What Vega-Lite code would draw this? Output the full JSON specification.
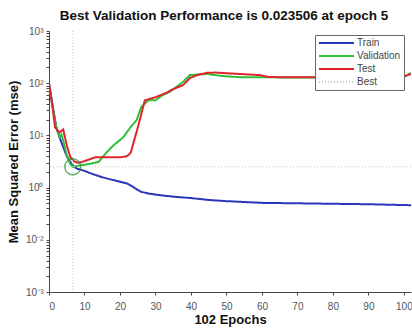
{
  "$schema": "https://vega.github.io/schema/vega-lite/v6.json",
  "autosize": "none",
  "width": 362,
  "height": 261,
  "padding": {"left": 49, "top": 31, "right": 1, "bottom": 37},
  "background": "white",
  "config": {
    "view": {"stroke": null},
    "font": "Liberation Sans",
    "axis": {"grid": false, "domainColor": "#444", "tickColor": "#444", "labelColor": "#555", "labelFont": "Liberation Sans", "labelFontSize": 10, "titleFont": "Liberation Sans", "titleFontSize": 13, "titleFontWeight": "bold", "titleColor": "#111", "tickSize": 3, "labelOverlap": false},
    "axisX": {"labelOverlap": false, "labelSeparation": 0}
  },
  "title": {"text": "Best Validation Performance is 0.023506 at epoch 5", "fontSize": 13.5, "fontWeight": "bold", "font": "Liberation Sans", "color": "#111", "anchor": "middle", "offset": 4, "dx": -6},
  "datasets": {
    "perf": [
      {"epoch": 0, "mse": 100, "series": "Train"},
      {"epoch": 1, "mse": 38, "series": "Train"},
      {"epoch": 2, "mse": 15, "series": "Train"},
      {"epoch": 3, "mse": 9, "series": "Train"},
      {"epoch": 4, "mse": 6, "series": "Train"},
      {"epoch": 5, "mse": 4, "series": "Train"},
      {"epoch": 6, "mse": 3.1, "series": "Train"},
      {"epoch": 7, "mse": 2.5, "series": "Train"},
      {"epoch": 8, "mse": 2.3, "series": "Train"},
      {"epoch": 10, "mse": 2.09, "series": "Train"},
      {"epoch": 12, "mse": 1.85, "series": "Train"},
      {"epoch": 15, "mse": 1.58, "series": "Train"},
      {"epoch": 18, "mse": 1.4, "series": "Train"},
      {"epoch": 20, "mse": 1.3, "series": "Train"},
      {"epoch": 22, "mse": 1.2, "series": "Train"},
      {"epoch": 24, "mse": 1.0, "series": "Train"},
      {"epoch": 25, "mse": 0.9, "series": "Train"},
      {"epoch": 26, "mse": 0.83, "series": "Train"},
      {"epoch": 28, "mse": 0.77, "series": "Train"},
      {"epoch": 31, "mse": 0.72, "series": "Train"},
      {"epoch": 35, "mse": 0.67, "series": "Train"},
      {"epoch": 40, "mse": 0.63, "series": "Train"},
      {"epoch": 45, "mse": 0.58, "series": "Train"},
      {"epoch": 50, "mse": 0.55, "series": "Train"},
      {"epoch": 55, "mse": 0.53, "series": "Train"},
      {"epoch": 60, "mse": 0.51, "series": "Train"},
      {"epoch": 70, "mse": 0.5, "series": "Train"},
      {"epoch": 80, "mse": 0.49, "series": "Train"},
      {"epoch": 90, "mse": 0.48, "series": "Train"},
      {"epoch": 102, "mse": 0.46, "series": "Train"},

      {"epoch": 0, "mse": 100, "series": "Validation"},
      {"epoch": 1, "mse": 35, "series": "Validation"},
      {"epoch": 2, "mse": 15, "series": "Validation"},
      {"epoch": 3, "mse": 9.3, "series": "Validation"},
      {"epoch": 3.5, "mse": 10.5, "series": "Validation"},
      {"epoch": 4, "mse": 8, "series": "Validation"},
      {"epoch": 5, "mse": 4.2, "series": "Validation"},
      {"epoch": 6, "mse": 2.8, "series": "Validation"},
      {"epoch": 6.7, "mse": 2.5, "series": "Validation"},
      {"epoch": 8, "mse": 2.6, "series": "Validation"},
      {"epoch": 9.5, "mse": 2.7, "series": "Validation"},
      {"epoch": 12, "mse": 2.9, "series": "Validation"},
      {"epoch": 14, "mse": 3.1, "series": "Validation"},
      {"epoch": 15, "mse": 3.8, "series": "Validation"},
      {"epoch": 16.3, "mse": 4.8, "series": "Validation"},
      {"epoch": 18, "mse": 6.3, "series": "Validation"},
      {"epoch": 21, "mse": 9.3, "series": "Validation"},
      {"epoch": 23, "mse": 14.5, "series": "Validation"},
      {"epoch": 24.7, "mse": 19.7, "series": "Validation"},
      {"epoch": 26, "mse": 35, "series": "Validation"},
      {"epoch": 28, "mse": 47, "series": "Validation"},
      {"epoch": 30, "mse": 47, "series": "Validation"},
      {"epoch": 32, "mse": 59, "series": "Validation"},
      {"epoch": 34, "mse": 68, "series": "Validation"},
      {"epoch": 37.7, "mse": 105, "series": "Validation"},
      {"epoch": 39.7, "mse": 143, "series": "Validation"},
      {"epoch": 44.5, "mse": 150, "series": "Validation"},
      {"epoch": 49, "mse": 137, "series": "Validation"},
      {"epoch": 54, "mse": 130, "series": "Validation"},
      {"epoch": 62, "mse": 130, "series": "Validation"},
      {"epoch": 70, "mse": 128, "series": "Validation"},
      {"epoch": 80, "mse": 128, "series": "Validation"},
      {"epoch": 90, "mse": 128, "series": "Validation"},
      {"epoch": 100, "mse": 132, "series": "Validation"},
      {"epoch": 102, "mse": 157, "series": "Validation"},

      {"epoch": 0, "mse": 100, "series": "Test"},
      {"epoch": 1, "mse": 35, "series": "Test"},
      {"epoch": 1.7, "mse": 14.5, "series": "Test"},
      {"epoch": 2.5, "mse": 12, "series": "Test"},
      {"epoch": 3, "mse": 11.5, "series": "Test"},
      {"epoch": 4, "mse": 13, "series": "Test"},
      {"epoch": 5, "mse": 6.5, "series": "Test"},
      {"epoch": 6, "mse": 3.85, "series": "Test"},
      {"epoch": 7, "mse": 3.2, "series": "Test"},
      {"epoch": 8, "mse": 3.0, "series": "Test"},
      {"epoch": 9, "mse": 3.05, "series": "Test"},
      {"epoch": 11, "mse": 3.4, "series": "Test"},
      {"epoch": 13, "mse": 3.8, "series": "Test"},
      {"epoch": 16, "mse": 3.8, "series": "Test"},
      {"epoch": 20, "mse": 3.8, "series": "Test"},
      {"epoch": 22, "mse": 4.0, "series": "Test"},
      {"epoch": 23, "mse": 4.6, "series": "Test"},
      {"epoch": 24, "mse": 8, "series": "Test"},
      {"epoch": 25, "mse": 14, "series": "Test"},
      {"epoch": 25.6, "mse": 20, "series": "Test"},
      {"epoch": 27, "mse": 47, "series": "Test"},
      {"epoch": 30, "mse": 54, "series": "Test"},
      {"epoch": 33, "mse": 65, "series": "Test"},
      {"epoch": 35, "mse": 77, "series": "Test"},
      {"epoch": 37.8, "mse": 92, "series": "Test"},
      {"epoch": 39.7, "mse": 126, "series": "Test"},
      {"epoch": 42, "mse": 145, "series": "Test"},
      {"epoch": 44.5, "mse": 158, "series": "Test"},
      {"epoch": 47, "mse": 160, "series": "Test"},
      {"epoch": 50, "mse": 155, "series": "Test"},
      {"epoch": 54, "mse": 150, "series": "Test"},
      {"epoch": 59.4, "mse": 143, "series": "Test"},
      {"epoch": 62, "mse": 131, "series": "Test"},
      {"epoch": 70, "mse": 130, "series": "Test"},
      {"epoch": 80, "mse": 130, "series": "Test"},
      {"epoch": 90, "mse": 130, "series": "Test"},
      {"epoch": 100, "mse": 135, "series": "Test"},
      {"epoch": 102, "mse": 150, "series": "Test"}
    ],
    "best": [{"epoch": 6.7, "mse": 2.5}]
  },
  "layer": [
    {
      "data": {"name": "perf"},
      "mark": {"type": "line", "strokeWidth": 2, "clip": true},
      "encoding": {
        "x": {"field": "epoch", "type": "quantitative", "scale": {"domain": [0, 102], "nice": false},
          "axis": {"title": "102 Epochs", "values": [0, 10, 20, 30, 40, 50, 60, 70, 80, 90, 100], "labelOverlap": false, "labelPadding": 6, "titlePadding": 2}},
        "y": {"field": "mse", "type": "quantitative", "scale": {"type": "log", "domain": [0.01, 1000], "nice": false},
          "axis": {"title": "Mean Squared Error  (mse)", "titlePadding": 5, "labelPadding": 3, "labelOverlap": false,
            "values": [0.01, 0.02, 0.03, 0.04, 0.05, 0.06, 0.07, 0.08, 0.09, 0.1, 0.2, 0.3, 0.4, 0.5, 0.6, 0.7, 0.8, 0.9, 1, 2, 3, 4, 5, 6, 7, 8, 9, 10, 20, 30, 40, 50, 60, 70, 80, 90, 100, 200, 300, 400, 500, 600, 700, 800, 900, 1000],
            "labelExpr": "datum.value == 1000 ? '10³' : datum.value == 100 ? '10²' : datum.value == 10 ? '10¹' : datum.value == 1 ? '10⁰' : datum.value == 0.1 ? '10⁻²' : datum.value == 0.01 ? '10⁻³' : ''"}},
        "color": {"field": "series", "type": "nominal",
          "scale": {"domain": ["Train", "Validation", "Test", "Best"], "range": ["#2b35b8", "#2fbf3a", "#e0242a", "#c8c8c8"]},
          "legend": {"title": null, "orient": "none", "legendX": 266, "legendY": 4, "symbolType": "stroke", "symbolSize": 1225, "symbolStrokeWidth": 2, "clipHeight": 10, "labelFontSize": 10, "labelColor": "#444", "labelFont": "Liberation Sans", "rowPadding": 3, "padding": 3, "labelOffset": 2, "strokeColor": "#666", "fillColor": "white", "cornerRadius": 0}},
        "strokeDash": {"field": "series", "type": "nominal",
          "scale": {"domain": ["Train", "Validation", "Test", "Best"], "range": [[1, 0], [1, 0], [1, 0], [1, 2]]},
          "legend": {"title": null, "orient": "none", "legendX": 266, "legendY": 4, "symbolType": "stroke", "symbolSize": 1225, "symbolStrokeWidth": 2, "clipHeight": 10, "labelFontSize": 10, "labelColor": "#444", "labelFont": "Liberation Sans", "rowPadding": 3, "padding": 3, "labelOffset": 2, "strokeColor": "#666", "fillColor": "white", "cornerRadius": 0}}
      }
    },
    {
      "data": {"name": "best"},
      "mark": {"type": "rule", "color": "#c8c8c8", "strokeDash": [1, 2], "strokeWidth": 1},
      "encoding": {"x": {"field": "epoch", "type": "quantitative",
          "axis": {"title": "102 Epochs", "values": [0, 10, 20, 30, 40, 50, 60, 70, 80, 90, 100], "labelOverlap": false, "labelPadding": 6, "titlePadding": 2}}}
    },
    {
      "data": {"name": "best"},
      "mark": {"type": "rule", "color": "#c8c8c8", "strokeDash": [1, 2], "strokeWidth": 1},
      "encoding": {"y": {"field": "mse", "type": "quantitative",
          "axis": {"title": "Mean Squared Error  (mse)", "titlePadding": 5, "labelPadding": 3, "labelOverlap": false,
            "values": [0.01, 0.02, 0.03, 0.04, 0.05, 0.06, 0.07, 0.08, 0.09, 0.1, 0.2, 0.3, 0.4, 0.5, 0.6, 0.7, 0.8, 0.9, 1, 2, 3, 4, 5, 6, 7, 8, 9, 10, 20, 30, 40, 50, 60, 70, 80, 90, 100, 200, 300, 400, 500, 600, 700, 800, 900, 1000],
            "labelExpr": "datum.value == 1000 ? '10³' : datum.value == 100 ? '10²' : datum.value == 10 ? '10¹' : datum.value == 1 ? '10⁰' : datum.value == 0.1 ? '10⁻²' : datum.value == 0.01 ? '10⁻³' : ''"}}}
    },
    {
      "data": {"name": "best"},
      "mark": {"type": "point", "shape": "circle", "filled": false, "size": 256, "color": "#2e8b34", "strokeWidth": 1.5},
      "encoding": {
        "x": {"field": "epoch", "type": "quantitative",
          "axis": {"title": "102 Epochs", "values": [0, 10, 20, 30, 40, 50, 60, 70, 80, 90, 100], "labelOverlap": false, "labelPadding": 6, "titlePadding": 2}},
        "y": {"field": "mse", "type": "quantitative",
          "axis": {"title": "Mean Squared Error  (mse)", "titlePadding": 5, "labelPadding": 3, "labelOverlap": false,
            "values": [0.01, 0.02, 0.03, 0.04, 0.05, 0.06, 0.07, 0.08, 0.09, 0.1, 0.2, 0.3, 0.4, 0.5, 0.6, 0.7, 0.8, 0.9, 1, 2, 3, 4, 5, 6, 7, 8, 9, 10, 20, 30, 40, 50, 60, 70, 80, 90, 100, 200, 300, 400, 500, 600, 700, 800, 900, 1000],
            "labelExpr": "datum.value == 1000 ? '10³' : datum.value == 100 ? '10²' : datum.value == 10 ? '10¹' : datum.value == 1 ? '10⁰' : datum.value == 0.1 ? '10⁻²' : datum.value == 0.01 ? '10⁻³' : ''"}}
      }
    }
  ]
}
